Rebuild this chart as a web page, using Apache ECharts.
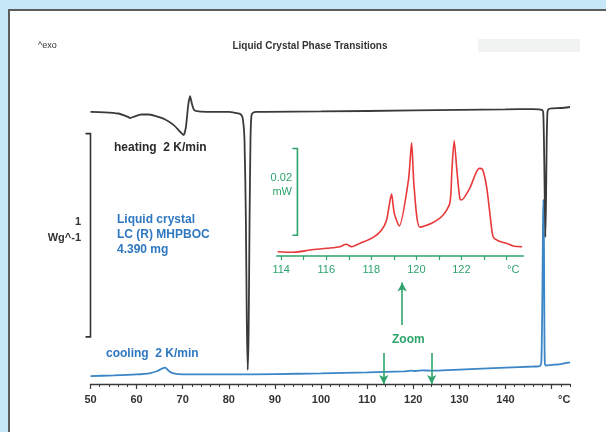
<!DOCTYPE html>
<html>
<head>
<meta charset="utf-8">
<script src="https://cdn.jsdelivr.net/npm/echarts@6/dist/echarts.min.js"></script>
<style>html,body{margin:0;padding:0;background:#c6e7f8;}#c{width:606px;height:432px;}</style>
</head>
<body>
<div id="c"></div>
<script>
// ---- Main DSC curves (temperature in °C, heat flow in W/g, arbitrary offset) ----
var heatT = [50, 53, 56, 58, 58.6, 59.5, 61, 62.5, 64, 66, 68, 69.5, 70.2, 70.7, 71.2, 71.6, 72.0, 72.5, 73.5, 76, 80, 81.5, 82.5, 83.0, 83.4, 83.7, 83.9, 84.1, 84.3, 84.5, 84.7, 84.9, 85.2, 86, 88, 100, 120, 140, 146, 148.0, 148.2, 148.35, 148.5, 148.65, 148.8, 148.95, 149.1, 149.3, 150, 152, 154];
var heatW = [1.339, 1.337, 1.331, 1.316, 1.309, 1.316, 1.326, 1.326, 1.319, 1.304, 1.275, 1.240, 1.225, 1.265, 1.374, 1.417, 1.378, 1.348, 1.341, 1.339, 1.339, 1.334, 1.329, 1.309, 1.201, 0.807, 0.315, 0.069, 0.266, 0.807, 1.201, 1.319, 1.334, 1.339, 1.339, 1.341, 1.346, 1.351, 1.353, 1.348, 1.334, 1.201, 0.955, 0.723, 0.906, 1.201, 1.334, 1.351, 1.356, 1.358, 1.363];

var coolT = [50, 55, 60, 63, 64.5, 65.5, 66.2, 67, 68, 70, 80, 90, 100, 110, 118, 119.5, 120.5, 122, 123.5, 125, 130, 140, 146, 147.5, 147.8, 148.0, 148.15, 148.25, 148.35, 148.45, 148.55, 148.8, 150, 152, 154];
var coolW = [0.039, 0.042, 0.047, 0.054, 0.064, 0.076, 0.081, 0.064, 0.052, 0.047, 0.047, 0.049, 0.052, 0.057, 0.062, 0.066, 0.064, 0.067, 0.066, 0.066, 0.071, 0.081, 0.086, 0.089, 0.118, 0.413, 0.807, 0.906, 0.709, 0.266, 0.098, 0.091, 0.094, 0.098, 0.106];

// ---- Zoomed cooling curve (mW) ----
var zoomT = [113.84, 114.55, 115.29, 116.03, 116.62, 116.88, 117.13, 117.5, 118.09, 118.46, 118.68, 118.81, 118.9, 119.02, 119.24, 119.65, 119.79, 119.9, 120.16, 120.68, 121.19, 121.49, 121.58, 121.68, 121.8, 121.93, 122.0, 122.37, 122.79, 122.94, 123.12, 123.3, 123.41, 123.63, 124.0, 124.3, 124.7];
var zoomMW = [0.00099, 0.00085, 0.00138, 0.00178, 0.00215, 0.00270, 0.00215, 0.00293, 0.00431, 0.00600, 0.00830, 0.01216, 0.01430, 0.00990, 0.00692, 0.01753, 0.02614, 0.01600, 0.00662, 0.00754, 0.00946, 0.01223, 0.01980, 0.02660, 0.01980, 0.01331, 0.01292, 0.01562, 0.02023, 0.02000, 0.01599, 0.00830, 0.00445, 0.00353, 0.00293, 0.00231, 0.00215];

// ---- Axis ticks / labels ----
var mainMinorTicks = [];
for (var t = 50; t <= 154; t += 2) mainMinorTicks.push(t);
var mainMajorTicks = [50, 60, 70, 80, 90, 100, 110, 120, 130, 140, 150];
var mainLabels = [50, 60, 70, 80, 90, 100, 110, 120, 130, 140];
var zoomTicks = [114, 115, 116, 117, 118, 119, 120, 121, 122, 123, 124];
var zoomLabels = [114, 116, 118, 120, 122];

// Scale bars: [x position, from, to]
var mainScaleBar = [[50, 0.232, 1.232]];
var zoomScaleBar = [[114.72, 0.0048, 0.0248]];

function pairs(xs, ys) { return xs.map(function (x, i) { return [x, ys[i]]; }); }

var FONT = '"Liberation Sans", Arial, Helvetica, sans-serif';
var GREEN = '#2ea36c';
var BLUE = '#2f78c0';

function bracket(color) {
  return function (params, api) {
    var b = api.coord([api.value(0), api.value(1)]);
    var t = api.coord([api.value(0), api.value(2)]);
    return {
      type: 'polyline',
      shape: { points: [[b[0] - 5, b[1]], [b[0], b[1]], [t[0], t[1]], [t[0] - 5, t[1]]] },
      style: { stroke: color, lineWidth: 1.6, fill: null }
    };
  };
}

var chart = echarts.init(document.getElementById('c'), null, { renderer: 'canvas' });
chart.setOption({
  backgroundColor: '#c6e7f8',
  animation: false,
  textStyle: { fontFamily: FONT },
  graphic: [
    { type: 'rect', z: -10, shape: { x: 9, y: 10, width: 620, height: 440 }, style: { fill: '#ffffff', stroke: '#5c5c5c', lineWidth: 2 } },
    { type: 'rect', z: -9, shape: { x: 478, y: 39, width: 102, height: 13 }, style: { fill: '#f1f2f2' } },
    { type: 'text', x: 38, y: 41, style: { text: '^exo', font: '9px ' + FONT, fill: '#333' } },
    { type: 'text', x: 310, y: 41, style: { text: 'Liquid Crystal Phase Transitions', font: 'bold 10px ' + FONT, fill: '#333', align: 'center' } },
    { type: 'text', x: 114, y: 142, style: { text: 'heating  2 K/min', font: 'bold 12px ' + FONT, fill: '#2b2b2b' } },
    { type: 'text', x: 117, y: 212, style: { text: 'Liquid crystal\nLC (R) MHPBOC\n4.390 mg', font: 'bold 12px ' + FONT, fill: BLUE, lineHeight: 15 } },
    { type: 'text', x: 81, y: 214, style: { text: '1\nWg^-1', font: 'bold 11px ' + FONT, fill: '#333', align: 'right', lineHeight: 16 } },
    { type: 'text', x: 106, y: 348, style: { text: 'cooling  2 K/min', font: 'bold 12px ' + FONT, fill: BLUE } },
    { type: 'text', x: 392, y: 334, style: { text: 'Zoom', font: 'bold 12px ' + FONT, fill: GREEN } },
    { type: 'text', x: 292, y: 171, style: { text: '0.02\nmW', font: '11px ' + FONT, fill: GREEN, align: 'right', lineHeight: 14 } },
    { type: 'text', x: 558, y: 394, style: { text: '°C', font: 'bold 11px ' + FONT, fill: '#333' } },
    { type: 'text', x: 507, y: 264, style: { text: '°C', font: '11px ' + FONT, fill: GREEN } }
  ],
  grid: [
    { left: 90.5, right: 36, top: 69, bottom: 48 },
    { left: 276.7, width: 246.6, top: 126, height: 130 }
  ],
  xAxis: [
    {
      type: 'value', gridIndex: 0, min: 50, max: 154, interval: 2,
      axisLine: { show: true, lineStyle: { color: '#3a3a3a', width: 1.3 } },
      axisTick: { show: true, customValues: mainMinorTicks, length: 3, lineStyle: { color: '#3a3a3a', width: 1 } },
      axisLabel: { show: true, customValues: mainLabels, margin: 10, color: '#333', fontWeight: 'bold', fontSize: 11, fontFamily: FONT },
      splitLine: { show: false }
    },
    {
      type: 'value', gridIndex: 0, min: 50, max: 154, interval: 10, position: 'bottom',
      axisLine: { show: false },
      axisTick: { show: true, customValues: mainMajorTicks, length: 5, lineStyle: { color: '#3a3a3a', width: 1.2 } },
      axisLabel: { show: false },
      splitLine: { show: false }
    },
    {
      type: 'value', gridIndex: 1, min: 113.8, max: 124.75,
      axisLine: { show: true, lineStyle: { color: GREEN, width: 1.5 } },
      axisTick: { show: true, customValues: zoomTicks, length: 4, lineStyle: { color: GREEN, width: 1.2 } },
      axisLabel: { show: true, customValues: zoomLabels, margin: 8, color: GREEN, fontSize: 11, fontFamily: FONT },
      splitLine: { show: false }
    }
  ],
  yAxis: [
    { type: 'value', gridIndex: 0, min: 0, max: 1.55, show: false, splitLine: { show: false } },
    { type: 'value', gridIndex: 1, min: 0, max: 0.03, show: false, splitLine: { show: false } }
  ],
  series: [
    {
      name: 'heating', type: 'line', xAxisIndex: 0, yAxisIndex: 0, data: pairs(heatT, heatW),
      showSymbol: false, smooth: 0.2, lineStyle: { color: '#3a3a3a', width: 1.8 }, z: 3
    },
    {
      name: 'cooling', type: 'line', xAxisIndex: 0, yAxisIndex: 0, data: pairs(coolT, coolW),
      showSymbol: false, smooth: 0.2, lineStyle: { color: '#3a86c6', width: 1.8 }, z: 2
    },
    {
      name: 'zoom', type: 'line', xAxisIndex: 2, yAxisIndex: 1, data: pairs(zoomT, zoomMW),
      showSymbol: false, smooth: 0.25, lineStyle: { color: '#e8383a', width: 1.6 }
    },
    {
      name: 'mainBar', type: 'custom', xAxisIndex: 0, yAxisIndex: 0, data: mainScaleBar,
      renderItem: bracket('#333'), silent: true,
      markLine: {
        silent: true, symbol: ['none', 'arrow'], symbolSize: [7, 9], label: { show: false },
        lineStyle: { color: GREEN, width: 1.6, type: 'solid' },
        data: [
          [{ coord: [117.6, 0.29] }, { coord: [117.6, 0.50] }],
          [{ coord: [113.6, 0.153] }, { coord: [113.6, 0.0] }],
          [{ coord: [124.0, 0.153] }, { coord: [124.0, 0.0] }]
        ]
      }
    },
    {
      name: 'zoomBar', type: 'custom', xAxisIndex: 2, yAxisIndex: 1, data: zoomScaleBar,
      renderItem: bracket(GREEN), silent: true
    }
  ]
});
</script>
</body>
</html>
